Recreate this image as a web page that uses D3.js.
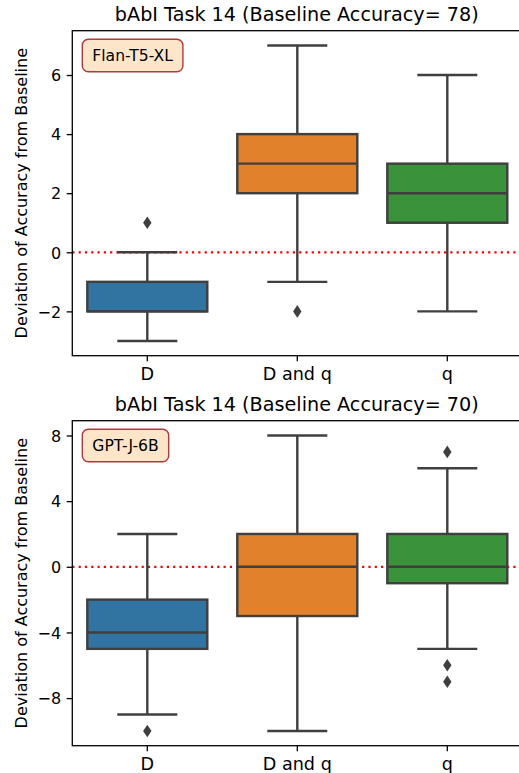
<!DOCTYPE html>
<html>
<head>
<meta charset="utf-8">
<script src="https://cdn.jsdelivr.net/npm/d3@7"></script>
<style>
  body { margin: 0; background: #fff; }
  text { font-family: "DejaVu Sans", sans-serif; fill: #000; }
</style>
</head>
<body>
<div id="chart"></div>
<script>
const categories = ["D", "D and q", "q"];
const boxColors = ["#3274a1", "#e1812c", "#3a923a"];

// top panel: Flan-T5-XL
const t5Title = "bAbI Task 14 (Baseline Accuracy= 78)";
const t5Label = "Flan-T5-XL";
const t5Q1 = [-2, 2, 1];
const t5Median = [-2, 3, 2];
const t5Q3 = [-1, 4, 3];
const t5WhiskerLow = [-3, -1, -2];
const t5WhiskerHigh = [0, 7, 6];
const t5Outliers = [[1], [-2], []];
const t5Ticks = [-2, 0, 2, 4, 6];
const t5Domain = [-3.5, 7.5];

// bottom panel: GPT-J-6B
const gptTitle = "bAbI Task 14 (Baseline Accuracy= 70)";
const gptLabel = "GPT-J-6B";
const gptQ1 = [-5, -3, -1];
const gptMedian = [-4, 0, 0];
const gptQ3 = [-2, 2, 2];
const gptWhiskerLow = [-9, -10, -5];
const gptWhiskerHigh = [2, 8, 6];
const gptOutliers = [[-10], [], [7, -6, -7]];
const gptTicks = [-8, -4, 0, 4, 8];
const gptDomain = [-10.9, 8.9];

const width = 519, height = 773;
const lineColor = "#3f3f3f";
const lw = 2.4;

const svg = d3.select('#chart').append('svg')
  .attr('width', width)
  .attr('height', height);

function drawPanel(top, panel) {
  const margin = { left: 72.3, top: top };
  const plotW = 450, plotH = 325;
  const g = svg.append('g').attr('transform', `translate(${margin.left},${margin.top})`);

  const x = d3.scaleBand().domain(categories).range([0, plotW]).paddingInner(0).paddingOuter(0);
  const y = d3.scaleLinear().domain(panel.domain).range([plotH, 0]);
  const boxW = x.bandwidth() * 0.8;

  // baseline reference line
  g.append('line')
    .attr('x1', 0).attr('x2', plotW)
    .attr('y1', y(0)).attr('y2', y(0))
    .attr('stroke', 'red')
    .attr('stroke-width', 2.2)
    .attr('stroke-dasharray', '2.2,4.1');

  categories.forEach((c, i) => {
    const cx = x(c) + x.bandwidth() / 2;
    const bg = g.append('g');
    // whiskers
    bg.append('line')
      .attr('x1', cx).attr('x2', cx)
      .attr('y1', y(panel.q3[i])).attr('y2', y(panel.whiskerHigh[i]))
      .attr('stroke', lineColor).attr('stroke-width', lw);
    bg.append('line')
      .attr('x1', cx).attr('x2', cx)
      .attr('y1', y(panel.q1[i])).attr('y2', y(panel.whiskerLow[i]))
      .attr('stroke', lineColor).attr('stroke-width', lw);
    [panel.whiskerHigh[i], panel.whiskerLow[i]].forEach(v => {
      bg.append('line')
        .attr('x1', cx - boxW / 4).attr('x2', cx + boxW / 4)
        .attr('y1', y(v)).attr('y2', y(v))
        .attr('stroke', lineColor).attr('stroke-width', lw);
    });
    // box
    bg.append('rect')
      .attr('x', cx - boxW / 2)
      .attr('y', y(panel.q3[i]))
      .attr('width', boxW)
      .attr('height', y(panel.q1[i]) - y(panel.q3[i]))
      .attr('fill', boxColors[i])
      .attr('stroke', lineColor).attr('stroke-width', lw);
    // median
    bg.append('line')
      .attr('x1', cx - boxW / 2).attr('x2', cx + boxW / 2)
      .attr('y1', y(panel.median[i])).attr('y2', y(panel.median[i]))
      .attr('stroke', lineColor).attr('stroke-width', lw);
    // outliers (thin diamonds)
    bg.selectAll('.flier')
      .data(panel.outliers[i])
      .enter()
      .append('path')
      .attr('class', 'flier')
      .attr('d', d => `M${cx},${y(d) - 6.3} L${cx + 4.2},${y(d)} L${cx},${y(d) + 6.3} L${cx - 4.2},${y(d)} Z`)
      .attr('fill', lineColor);
  });

  // axes
  const xAxis = d3.axisBottom(x).tickSize(5.6).tickPadding(5.6);
  const xg = g.append('g')
    .attr('transform', `translate(0,${plotH})`)
    .call(xAxis);
  const yAxis = d3.axisLeft(y).tickValues(panel.ticks).tickSize(5.6).tickPadding(5.6)
    .tickFormat(d => d < 0 ? '\u2212' + Math.abs(d) : d);
  const yg = g.append('g').call(yAxis);
  [xg, yg].forEach(a => {
    a.select('.domain').remove();
    a.selectAll('line').attr('stroke', '#000').attr('stroke-width', 1.3);
  });
  yg.selectAll('text').style('font-size', '16px').attr('dy', '0.36em');
  xg.selectAll('text').style('font-size', '17.6px').attr('dy', '0.74em');

  // spines (right spine falls just outside the canvas)
  g.append('rect')
    .attr('x', 0).attr('y', 0)
    .attr('width', plotW).attr('height', plotH)
    .attr('fill', 'none')
    .attr('stroke', '#000')
    .attr('stroke-width', 1.3);

  // title
  g.append('text')
    .attr('x', plotW / 2 - 0.5)
    .attr('y', -10)
    .attr('text-anchor', 'middle')
    .style('font-size', '19.2px')
    .text(panel.title);

  // y label
  g.append('text')
    .attr('transform', `translate(${-45.6},${plotH / 2}) rotate(-90)`)
    .attr('text-anchor', 'middle')
    .style('font-size', '16px')
    .text('Deviation of Accuracy from Baseline');

  // model badge
  const badge = g.append('g').attr('transform', 'translate(10,8.6)');
  const rect = badge.append('rect')
    .attr('height', 32.4)
    .attr('rx', 6).attr('ry', 6)
    .attr('fill', '#fde5c9')
    .attr('stroke', '#b03a3a')
    .attr('stroke-width', 1.4);
  const label = badge.append('text')
    .attr('y', 16.2)
    .attr('dy', '0.36em')
    .attr('text-anchor', 'middle')
    .style('font-size', '15.6px')
    .text(panel.label);
  const tw = label.node().getComputedTextLength() + 20;
  rect.attr('width', tw);
  label.attr('x', tw / 2);
}

drawPanel(30.7, {
  title: t5Title, label: t5Label, q1: t5Q1, median: t5Median, q3: t5Q3,
  whiskerLow: t5WhiskerLow, whiskerHigh: t5WhiskerHigh, outliers: t5Outliers,
  ticks: t5Ticks, domain: t5Domain
});
drawPanel(420.7, {
  title: gptTitle, label: gptLabel, q1: gptQ1, median: gptMedian, q3: gptQ3,
  whiskerLow: gptWhiskerLow, whiskerHigh: gptWhiskerHigh, outliers: gptOutliers,
  ticks: gptTicks, domain: gptDomain
});
</script>
</body>
</html>
